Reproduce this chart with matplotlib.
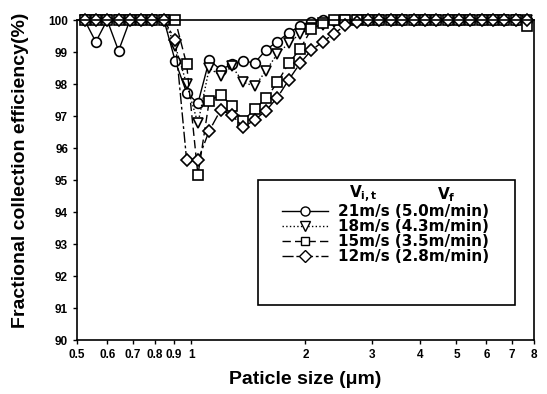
import matplotlib
matplotlib.use("Agg")
import matplotlib.pyplot as plt
from matplotlib.patches import Rectangle
from matplotlib.lines import Line2D

plt.rcParams["font.family"] = ["Liberation Sans", "DejaVu Sans"]

# particle size channels (um)
sizes = [0.523, 0.560, 0.600, 0.643, 0.689, 0.738, 0.790, 0.847, 0.907, 0.972,
         1.041, 1.115, 1.195, 1.280, 1.371, 1.469, 1.574, 1.686, 1.806, 1.935,
         2.073, 2.221, 2.379, 2.549, 2.730, 2.925, 3.134, 3.357, 3.596, 3.853,
         4.127, 4.422, 4.737, 5.075, 5.436, 5.824, 6.239, 6.684, 7.161, 7.671]

# fractional collection efficiency (%)
eff_21 = [100, 99.32, 100, 99.04, 100, 100, 100, 100, 98.72, 97.73,
          97.40, 98.75, 98.45, 98.62, 98.72, 98.66, 99.07, 99.33, 99.60, 99.82,
          99.95, 100, 100, 100, 100, 100, 100, 100, 100, 100,
          100, 100, 100, 100, 100, 100, 100, 100, 100, 100]
eff_18 = [100, 100, 100, 100, 100, 100, 100, 100, 99.2, 98.0,
          96.77, 98.5, 98.26, 98.55, 98.06, 97.93, 98.42, 98.95, 99.27, 99.58,
          99.74, 99.84, 99.95, 100, 100, 100, 100, 100, 100, 100,
          100, 100, 100, 100, 100, 100, 100, 100, 100, 100]
eff_15 = [100, 100, 100, 100, 100, 100, 100, 100, 100, 98.62,
          95.16, 97.48, 97.67, 97.32, 96.85, 97.22, 97.55, 98.05, 98.65, 99.09,
          99.72, 99.9, 100, 100, 100, 100, 100, 100, 100, 100,
          100, 100, 100, 100, 100, 100, 100, 100, 100, 99.8]
eff_12 = [100, 100, 100, 100, 100, 100, 100, 100, 99.38, 95.62,
          95.62, 96.54, 97.19, 97.03, 96.65, 96.88, 97.17, 97.58, 98.13, 98.65,
          99.06, 99.32, 99.58, 99.84, 99.95, 100, 100, 100, 100, 100,
          100, 100, 100, 100, 100, 100, 100, 100, 100, 100]

labels = ["21m/s (5.0m/min)", "18m/s (4.3m/min)",
          "15m/s (3.5m/min)", "12m/s (2.8m/min)"]
xticks = [0.5, 0.6, 0.7, 0.8, 0.9, 1, 2, 3, 4, 5, 6, 7, 8]
xticklabels = ["0.5", "0.6", "0.7", "0.8", "0.9", "1", "2", "3", "4", "5", "6", "7", "8"]

fig = plt.figure(figsize=(5.47, 3.94), dpi=100)
ax = fig.add_axes([0.141, 0.137, 0.835, 0.812])

styles = [
    (eff_21, "o", "-", 7.0),
    (eff_18, "v", ":", 7.5),
    (eff_15, "s", (0, (6, 3)), 6.5),
    (eff_12, "D", (0, (8, 2, 2, 2)), 6.5),
]
for vals, mk, ls, ms in styles:
    ax.plot(sizes, vals, marker=mk, linestyle=ls, color="black",
            linewidth=1.0, markersize=ms, markerfacecolor="white",
            markeredgecolor="black", markeredgewidth=1.2, clip_on=False)

ax.set_xscale("log")
ax.set_xlim(0.5, 8)
ax.set_ylim(90, 100)
ax.set_xticks(xticks)
ax.set_xticklabels(xticklabels)
ax.xaxis.set_minor_locator(matplotlib.ticker.NullLocator())
ax.set_yticks(range(90, 101))
ax.tick_params(axis="both", labelsize=8.5, length=3, width=1, direction="out")
for t in ax.get_xticklabels() + ax.get_yticklabels():
    t.set_fontweight("bold")
for sp in ax.spines.values():
    sp.set_linewidth(1.2)

ax.set_xlabel("Paticle size (\u03bcm)", fontsize=14, fontweight="bold", labelpad=7)
ax.set_ylabel("Fractional collection efficiency(%)", fontsize=14,
              fontweight="bold")
ax.yaxis.set_label_coords(-0.105, 0.53)

# legend box, drawn by hand so the rows sit close together
leg_font = ["DejaVu Sans"]
ax.add_patch(Rectangle((0.396, 0.109), 0.562, 0.391, transform=ax.transAxes,
                       facecolor="white", edgecolor="black", linewidth=1.2,
                       zorder=5))
ax.text(0.626, 0.455, r"V$_{\mathbf{i,t}}$", transform=ax.transAxes,
        family=leg_font, fontsize=11, fontweight="bold", ha="center",
        va="center", zorder=7)
ax.text(0.808, 0.455, r"V$_{\mathbf{f}}$", transform=ax.transAxes,
        family=leg_font, fontsize=11, fontweight="bold", ha="center",
        va="center", zorder=7)
row_y = [0.403, 0.356, 0.309, 0.262]
for (vals, mk, ls, ms), lab, yy in zip(styles, labels, row_y):
    ax.add_line(Line2D([0.449, 0.549], [yy, yy], transform=ax.transAxes,
                       linestyle=ls, color="black", linewidth=1.0, zorder=6))
    ax.add_line(Line2D([0.499], [yy], transform=ax.transAxes, marker=mk,
                       markersize=ms - 0.5, markerfacecolor="white",
                       markeredgecolor="black", markeredgewidth=1.0,
                       linestyle="none", zorder=7))
    ax.text(0.571, yy, lab, transform=ax.transAxes, family=leg_font,
            fontsize=11, fontweight="bold", ha="left", va="center",
            zorder=7)

fig.savefig("out.png", dpi=100)
